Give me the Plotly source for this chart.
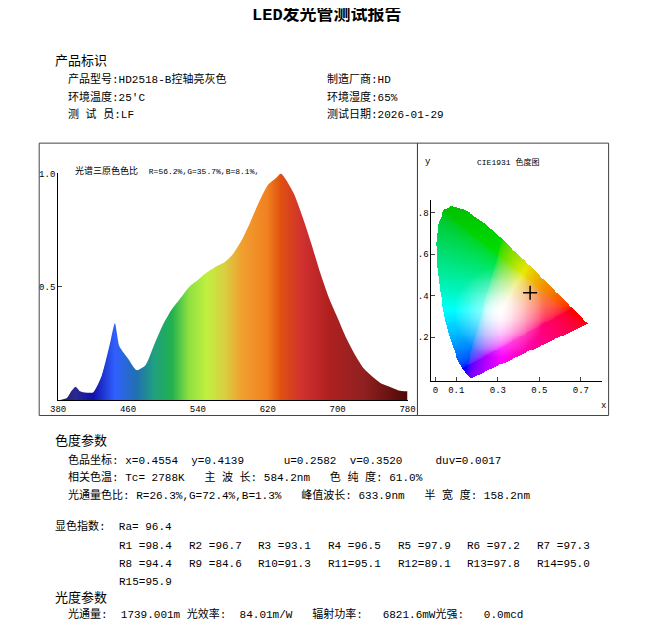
import numpy as np
import plotly.graph_objects as go

W, H = 654, 625

# spectrum, relative intensity
wl = [380, 390, 395, 400, 405, 410, 420, 430, 440, 445, 450, 455, 460, 470, 480, 490, 500, 510, 520,
      530, 540, 550, 560, 570, 580, 590, 600, 610, 620, 630, 635, 640, 650, 660, 670, 680, 690,
      700, 710, 720, 730, 740, 750, 760, 770, 780]
rel = [0.0, 0.01, 0.04, 0.06, 0.04, 0.035, 0.035, 0.11, 0.26, 0.34, 0.24, 0.21, 0.185, 0.133, 0.155,
       0.245, 0.333, 0.40, 0.45, 0.50, 0.53, 0.563, 0.588, 0.607, 0.644, 0.704, 0.785, 0.874, 0.948,
       0.982, 1.0, 0.978, 0.91, 0.807, 0.689, 0.563, 0.452, 0.363, 0.274, 0.20, 0.14, 0.104, 0.074,
       0.059, 0.044, 0.04]

# colours along the spectrum (wavelength, colour)
spec_stops = [(380, "#1a1a60"), (400, "#2a2a90"), (420, "#1010a8"), (445, "#3060ff"), (470, "#2070b0"),
              (490, "#20a080"), (510, "#20b050"), (530, "#90e040"), (550, "#c0f040"), (570, "#d8d040"),
              (590, "#f0a030"), (620, "#f08020"), (635, "#e05010"), (660, "#d03030"), (690, "#b02020"),
              (730, "#902020"), (780, "#500808")]

# CIE 1931 spectral locus
locus_x = [0.1741, 0.1714, 0.1644, 0.1566, 0.1440, 0.1241, 0.1096, 0.0913, 0.0687, 0.0454, 0.0235,
           0.0082, 0.0039, 0.0139, 0.0389, 0.0743, 0.1142, 0.1547, 0.2296, 0.3016, 0.3731, 0.4441,
           0.5125, 0.5752, 0.6270, 0.6915, 0.7190, 0.7347]
locus_y = [0.0050, 0.0051, 0.0109, 0.0177, 0.0297, 0.0578, 0.0868, 0.1327, 0.2007, 0.2950, 0.4127,
           0.5384, 0.6548, 0.7502, 0.8120, 0.8338, 0.8262, 0.8059, 0.7543, 0.6923, 0.6245, 0.5547,
           0.4866, 0.4242, 0.3725, 0.3083, 0.2809, 0.2653]
cie_x, cie_y = 0.4554, 0.4139


# reference pixel -> paper (compensates the page offset seen in the render)
def px(x):
    return ((x - 14.7) / 0.98) / W


def py(y):
    return 1 - ((y - 13) / 0.985) / H


fig = go.Figure()
fig.add_trace(go.Scatter(
    x=wl, y=rel, mode="lines", line=dict(color="rgba(0,0,0,0)", shape="spline", smoothing=0.6),
    fill="tozeroy",
    fillgradient=dict(type="horizontal",
                      colorscale=[[(w - 380) / 400, c] for w, c in spec_stops]),
    xaxis="x", yaxis="y"))

# chromaticity background
gx = np.linspace(0, 0.76, 170)
gy = np.linspace(0, 0.85, 190)
X, Y = np.meshgrid(gx, gy)
Yv = np.ones_like(X)
Xc = np.where(Y > 0, X / np.maximum(Y, 1e-6), 0)
Zc = np.where(Y > 0, (1 - X - Y) / np.maximum(Y, 1e-6), 0)
R = 3.2406 * Xc - 1.5372 * Yv - 0.4986 * Zc
G = -0.9689 * Xc + 1.8758 * Yv + 0.0415 * Zc
B = 0.0557 * Xc - 0.2040 * Yv + 1.0570 * Zc
rgb = np.clip(np.stack([R, G, B], -1), 0, None)
rgb = rgb / rgb.max(-1, keepdims=True).clip(1e-6)
rgb = rgb ** (1 / 2.2)
d = np.sqrt((X - 0.31) ** 2 + (Y - 0.32) ** 2)
t = np.clip(d / 0.22, 0, 1)[..., None] ** 0.8
rgb = 1 - (1 - rgb) * t
rgb = rgb * (0.75 + 0.25 * np.clip(1 - (Y - 0.35) / 0.5, 0, 1))[..., None]
poly = np.array(list(zip(locus_x, locus_y)) + [(locus_x[0], locus_y[0])])
inside = np.zeros(X.shape, bool)
for i in range(len(poly) - 1):
    x1, y1 = poly[i]
    x2, y2 = poly[i + 1]
    cond = ((y1 > Y) != (y2 > Y)) & (X < (x2 - x1) * (Y - y1) / (y2 - y1 + 1e-12) + x1)
    inside ^= cond
img = (np.clip(rgb, 0, 1) * 255).astype(np.uint8)
img[~inside] = 255
fig.add_trace(go.Image(z=img, x0=gx[0], dx=gx[1] - gx[0], y0=gy[0], dy=gy[1] - gy[0],
                       xaxis="x2", yaxis="y2", hoverinfo="skip"))
fig.add_trace(go.Scatter(x=[cie_x], y=[cie_y], mode="markers",
                         marker=dict(symbol="cross-thin", size=10, line=dict(color="black", width=1.5)),
                         xaxis="x2", yaxis="y2"))

tick = dict(family="Liberation Mono", size=9, color="black")
fig.update_layout(
    width=W, height=H, margin=dict(l=0, r=0, t=0, b=0), showlegend=False,
    paper_bgcolor="white", plot_bgcolor="white",
    xaxis=dict(domain=[px(57), px(408)], range=[380, 780], tickvals=[380, 460, 540, 620, 700, 780],
               showline=True, linecolor="black", showgrid=False, zeroline=False, ticks="", tickfont=tick),
    yaxis=dict(domain=[py(398), py(173)], range=[0, 1.0], tickvals=[0.5, 1.0], ticktext=["0.5", "1.0"],
               showline=True, linecolor="black", showgrid=False, zeroline=False, ticks="inside",
               ticklen=4, tickfont=tick),
    xaxis2=dict(domain=[px(432), px(603)], range=[-0.02, 0.8], tickvals=[0, 0.1, 0.3, 0.5, 0.7],
                ticktext=["0", "0.1", "0.3", "0.5", "0.7"], showline=True, linecolor="black",
                showgrid=False, zeroline=False, ticks="inside", ticklen=4, tickfont=tick, anchor="y2"),
    yaxis2=dict(domain=[py(398), py(180)], range=[-0.01, 0.86], tickvals=[0.2, 0.4, 0.6, 0.8],
                ticktext=[".2", ".4", ".6", ".8"], showline=True, linecolor="black", showgrid=False,
                zeroline=False, ticks="inside", ticklen=4, tickfont=tick, anchor="x2"),
)

# frames
for x0, x1 in [(38, 418), (418, 610)]:
    fig.add_shape(type="rect", xref="paper", yref="paper", x0=px(x0), x1=px(x1), y0=py(413), y1=py(143),
                  line=dict(color="#444", width=1))

F = "Liberation Mono, Noto Sans CJK SC"


def txt(x, y, s, size=11, bold=False, anchor="left"):
    if bold:
        s = "<b>" + s + "</b>"
    fig.add_annotation(x=px(x), y=py(y), xref="paper", yref="paper", text=s, showarrow=False,
                       xanchor=anchor, yanchor="middle", font=dict(family=F, size=size, color="black"))


txt(327, 15, "LED发光管测试报告", 17, True, "center")
txt(52, 62, "产品标识", 13)
txt(65, 79, "产品型号:HD2518-B控轴亮灰色")
txt(325, 79, "制造厂商:HD")
txt(65, 97, "环境温度:25'C")
txt(325, 97, "环境湿度:65%")
txt(65, 115, "测 试 员:LF")
txt(325, 115, "测试日期:2026-01-29")
txt(72, 171, "光谱三原色色比  <span style='font-size:8px'>R=56.2%,G=35.7%,B=8.1%,</span>", 9)
txt(476, 162, "CIE1931 色度图", 8)
txt(424, 162, "y", 9)
txt(600, 404, "x", 9)
txt(52, 438, "色度参数", 13)
txt(65, 457, "色品坐标: x=0.4554  y=0.4139      u=0.2582  v=0.3520     duv=0.0017")
txt(65, 474, "相关色温: Tc= 2788K   主 波 长: 584.2nm   色 纯 度: 61.0%")
txt(65, 492, "光通量色比: R=26.3%,G=72.4%,B=1.3%   峰值波长: 633.9nm   半 宽 度: 158.2nm")
txt(52, 523, "显色指数:  Ra= 96.4")
rows = [["R1 =98.4", "R2 =96.7", "R3 =93.1", "R4 =96.5", "R5 =97.9", "R6 =97.2", "R7 =97.3"],
        ["R8 =94.4", "R9 =84.6", "R10=91.3", "R11=95.1", "R12=89.1", "R13=97.8", "R14=95.0"],
        ["R15=95.9"]]
for j, row in enumerate(rows):
    for i, s in enumerate(row):
        txt(116 + i * 70, 542 + j * 18, s)
txt(52, 594, "光度参数", 13)
txt(65, 610, "光通量:  1739.001m 光效率:  84.01m/W   辐射功率:   6821.6mW光强:   0.0mcd")

fig.write_html("out.html")
